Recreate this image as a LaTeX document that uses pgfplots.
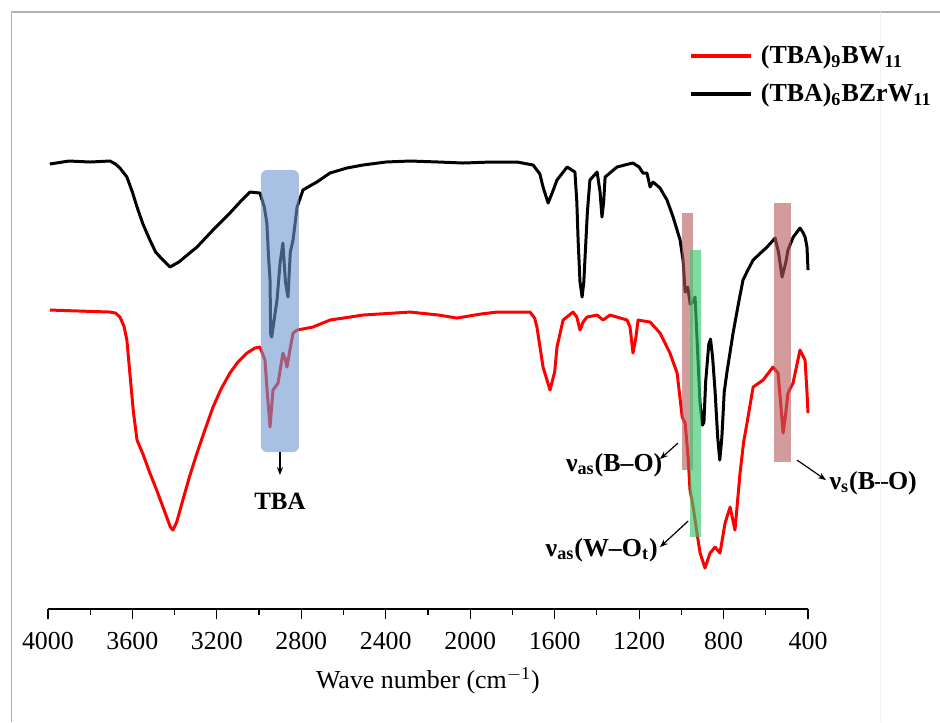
\documentclass[border=0pt]{standalone}
\usepackage{fontspec}
\setmainfont{Liberation Serif}
\usepackage{pgfplots}
\pgfplotsset{compat=1.18}
\usetikzlibrary{arrows.meta}

\definecolor{tbablue}{RGB}{110,150,205}
\definecolor{bopink}{RGB}{180,90,90}
\definecolor{wogreen}{RGB}{60,200,110}

\begin{document}
\begin{tikzpicture}
\begin{axis}[
    scale only axis,
    width=380bp, height=298.5bp,
    x dir=reverse,
    xmin=400, xmax=4000,
    ymin=113, ymax=710,
    clip=false,
    axis x line*=bottom,
    hide y axis,
    xtick={400,800,...,4000},
    minor x tick num=1,
    tick align=outside,
    major tick length=5bp,
    minor tick length=3bp,
    every tick/.style={black, line width=0.6pt},
    axis line style={line width=0.6pt},
    /pgf/number format/assume math mode=true,
    /pgf/number format/1000 sep={},
    tick label style={font=\fontsize{13}{15}\selectfont},
    xticklabel style={yshift=-3bp},
    xlabel={Wave number (cm\textsuperscript{$-$1})},
    xlabel style={font=\fontsize{13}{15}\selectfont, at={(axis description cs:0.5,0)}, anchor=center, yshift=-36bp},
    legend style={at={(axis cs:964,681)}, anchor=north west, draw=none, fill=none,
        font=\fontsize{13}{15}\selectfont\bfseries, row sep=4.5bp, column sep=2bp, inner sep=0pt},
    legend cell align=left,
    legend image code/.code={\draw[#1, line width=1.8pt] (0bp,0bp) -- (30bp,0bp);},
    line join=round,
]

% red: (TBA)9BW11
\addplot[red, line width=1.5pt] coordinates {
(3991,412) (3850,411) (3706,410) (3680,409) (3659,405) (3640,396) (3626,382)
(3612,349) (3595,310) (3578,282) (3550,268) (3517,249) (3485,232) (3455,215)
(3420,195) (3408,192) (3390,200) (3361,222) (3330,245) (3294,269) (3255,293)
(3218,315) (3180,333) (3138,349) (3100,360) (3057,369) (3020,374) (2996,375)
(2972,362) (2963,335) (2948,295) (2934,332) (2910,339) (2887,369) (2875,362)
(2868,355) (2854,372) (2839,389) (2820,392) (2745,395) (2664,402) (2569,405)
(2508,407) (2285,410) (2150,407) (2063,404) (1950,408) (1873,410) (1717,410)
(1695,404) (1684,395) (1655,355) (1622,332) (1600,350) (1589,375) (1560,402)
(1513,410) (1495,405) (1480,392) (1465,400) (1447,405) (1399,407) (1371,402)
(1338,407) (1257,402) (1243,395) (1229,369) (1215,385) (1205,402) (1148,400)
(1101,389) (1054,369) (1020,349) (996,305) (982,299) (968,265) (959,232)
(944,215) (926,189) (911,169) (888,154) (864,169) (840,175) (817,169)
(793,199) (769,215) (746,192) (722,249) (705,280) (689,299) (660,335)
(613,342) (566,355) (542,349) (530,320) (518,289) (505,310) (495,329)
(471,339) (438,372) (414,362) (405,330) (400,309)
};
\addlegendentry{(TBA)\textsubscript{9}BW\textsubscript{11}}

% black: (TBA)6BZrW11
\addplot[black, line width=1.5pt] coordinates {
(3991,558) (3900,561) (3800,560) (3706,561) (3680,558) (3659,554) (3626,545)
(3600,530) (3578,515) (3550,498) (3517,482) (3490,470) (3460,463) (3422,455)
(3380,460) (3340,467) (3294,475) (3218,492) (3138,509) (3090,520) (3043,530)
(2996,529) (2975,515) (2963,499) (2955,465) (2948,442) (2945,388) (2940,385)
(2930,400) (2915,422) (2900,460) (2887,479) (2875,440) (2863,425) (2852,470)
(2839,482) (2820,515) (2792,532) (2760,536) (2726,540) (2664,549) (2584,554)
(2508,557) (2400,560) (2285,561) (2150,560) (2034,559) (1900,560) (1778,560)
(1702,557) (1670,548) (1655,535) (1631,519) (1610,530) (1589,542) (1541,555)
(1504,550) (1495,520) (1489,482) (1480,440) (1470,425) (1462,440) (1456,465)
(1445,510) (1433,542) (1399,550) (1385,530) (1376,505) (1368,520) (1361,545)
(1305,555) (1250,558) (1229,559) (1200,555) (1182,549) (1163,549) (1148,535)
(1134,540) (1101,534) (1068,522) (1039,505) (1006,482) (992,462) (982,430)
(970,435) (958,418) (945,420) (935,425) (925,380) (912,320) (900,297)
(893,300) (885,340) (870,378) (862,383) (852,365) (840,330) (828,285)
(818,262) (808,285) (797,330) (784,350) (755,389) (730,418) (708,442)
(685,452) (660,462) (625,469) (594,475) (556,484) (540,470) (523,445)
(505,460) (495,472) (470,485) (438,494) (425,490) (414,485) (405,475) (400,452)
};
\addlegendentry{(TBA)\textsubscript{6}BZrW\textsubscript{11}}

% highlight bands
\fill[tbablue, opacity=0.6, rounded corners=3bp] (axis cs:2991,270) rectangle (axis cs:2811,552);
\fill[bopink, opacity=0.6] (axis cs:997,252) rectangle (axis cs:945,509);
\fill[wogreen, opacity=0.65] (axis cs:959,185) rectangle (axis cs:907,472);
\fill[bopink, opacity=0.6] (axis cs:561,260) rectangle (axis cs:481,519);

% annotations
\draw[-{Stealth[length=4bp]}, line width=0.6pt] (axis cs:2901,270) -- (axis cs:2901,247);
\node[font=\fontsize{12.5}{14}\selectfont\bfseries] at (axis cs:2901,221) {TBA};
\draw[-{Stealth[length=4bp]}, line width=0.6pt] (axis cs:1016,279) -- (axis cs:1101,263);
\node[anchor=east, inner sep=0pt, font=\fontsize{13}{15}\selectfont\bfseries] at (axis cs:1088,257) {ν\textsubscript{as}(B\textendash O)};
\draw[-{Stealth[length=4bp]}, line width=0.6pt] (axis cs:968,201) -- (axis cs:1101,175);
\node[anchor=east, inner sep=0pt, font=\fontsize{13}{15}\selectfont\bfseries] at (axis cs:1110,172) {ν\textsubscript{as}(W\textendash O\textsubscript{t})};
\draw[-{Stealth[length=4bp]}, line width=0.6pt] (axis cs:452,262) -- (axis cs:315,242);
\node[anchor=west, inner sep=0pt, font=\fontsize{13}{15}\selectfont\bfseries] at (axis cs:300,239) {ν\textsubscript{s}(B\textendash O)};

% picture frame
\draw[gray!60, line width=0.6pt] (axis cs:4171,0) -- (axis cs:4171,710) -- (axis cs:-225,710);
\draw[gray!12, line width=0.5pt] (axis cs:59,0) -- (axis cs:59,710);

\coordinate (bbl) at (axis cs:4227,0);
\coordinate (btr) at (axis cs:-225,722);
\end{axis}
\pgfresetboundingbox
\path[use as bounding box] (bbl) rectangle (btr);
\end{tikzpicture}
\end{document}
